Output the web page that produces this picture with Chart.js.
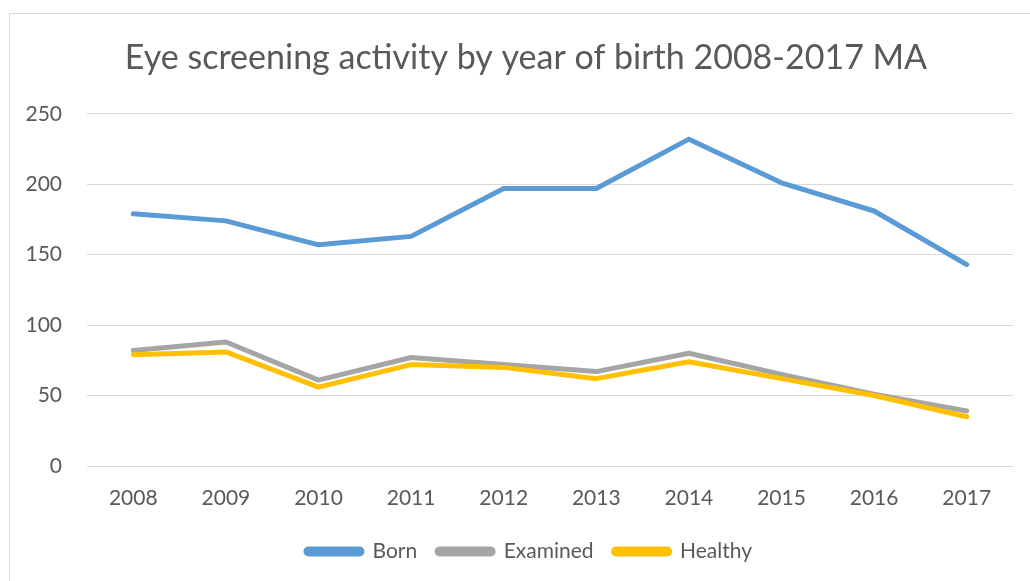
<!DOCTYPE html>
<html>
<head>
<meta charset="utf-8">
<script src="https://cdn.jsdelivr.net/npm/chart.js@4.4.1/dist/chart.umd.min.js"></script>
<style>
  html, body { margin: 0; padding: 0; background: #ffffff; }
  #frame { position: absolute; left: 9px; top: 13px; width: 1040px; height: 600px; border: 1px solid #d9d9d9; box-sizing: border-box; }
  #c { position: absolute; left: 0; top: 0; }
</style>
</head>
<body>
<div id="frame"></div>
<canvas id="c" width="1030" height="581"></canvas>
<script>
const chartTitle = 'Eye screening activity by year of birth 2008-2017 MA';
const years = ['2008', '2009', '2010', '2011', '2012', '2013', '2014', '2015', '2016', '2017'];
const born = [179, 174, 157, 163, 197, 197, 232, 201, 181, 143];
const examined = [82, 88, 61, 77, 72, 67, 80, 65, 51, 39];
const healthy = [79, 81, 56, 72, 70, 62, 74, 62, 50, 35];
const seriesNames = ['Born', 'Examined', 'Healthy'];
const seriesColors = ['#5B9BD5', '#A5A5A5', '#FFC000'];

const FONT = 'Lato, "Open Sans", sans-serif';
const TXT = '#595959';

function ds(label, data, color, order) {
  return {
    label, data, order,
    borderColor: color, backgroundColor: color,
    borderWidth: 5, pointRadius: 0, pointHoverRadius: 0,
    borderCapStyle: 'round', borderJoinStyle: 'round',
    tension: 0, fill: false
  };
}

// Center title and legend within the chart frame (as in the original), not the padded canvas
const frameCenter = {
  id: 'frameCenter',
  afterLayout(chart) {
    if (chart.titleBlock) { chart.titleBlock.left = 39; }
    if (chart.legend) { chart.legend.left = 45; }
  }
};

new Chart(document.getElementById('c'), {
  type: 'line',
  data: {
    labels: years,
    datasets: [
      ds(seriesNames[0], born, seriesColors[0], 2),
      ds(seriesNames[1], examined, seriesColors[1], 1),
      ds(seriesNames[2], healthy, seriesColors[2], 0)
    ]
  },
  plugins: [frameCenter],
  options: {
    responsive: false,
    animation: false,
    layout: { padding: { left: 0, right: 17, top: 0, bottom: 9 } },
    plugins: {
      tooltip: { enabled: false },
      title: {
        display: true, text: chartTitle, color: TXT,
        font: { family: FONT, size: 34, weight: 'normal' },
        padding: { top: 38, bottom: 35 }
      },
      legend: {
        position: 'bottom',
        labels: {
          color: TXT,
          font: { family: FONT, size: 21 },
          boxWidth: 56, boxHeight: 5, padding: 20,
          useBorderRadius: true, borderRadius: 2.5,
          sort: (a, b) => a.datasetIndex - b.datasetIndex
        }
      }
    },
    scales: {
      x: {
        offset: true,
        grid: { display: false, drawTicks: false },
        border: { display: false },
        ticks: { color: TXT, font: { family: FONT, size: 21 }, padding: 20, maxRotation: 0 },
        afterFit: (s) => { s.height = 55; }
      },
      y: {
        min: 0, max: 250,
        grid: { color: '#d9d9d9', lineWidth: 1, drawTicks: false },
        border: { display: false },
        ticks: { stepSize: 50, color: TXT, font: { family: FONT, size: 21 }, padding: 25 },
        afterFit: (s) => { s.width = 87; }
      }
    }
  }
});
</script>
</body>
</html>
